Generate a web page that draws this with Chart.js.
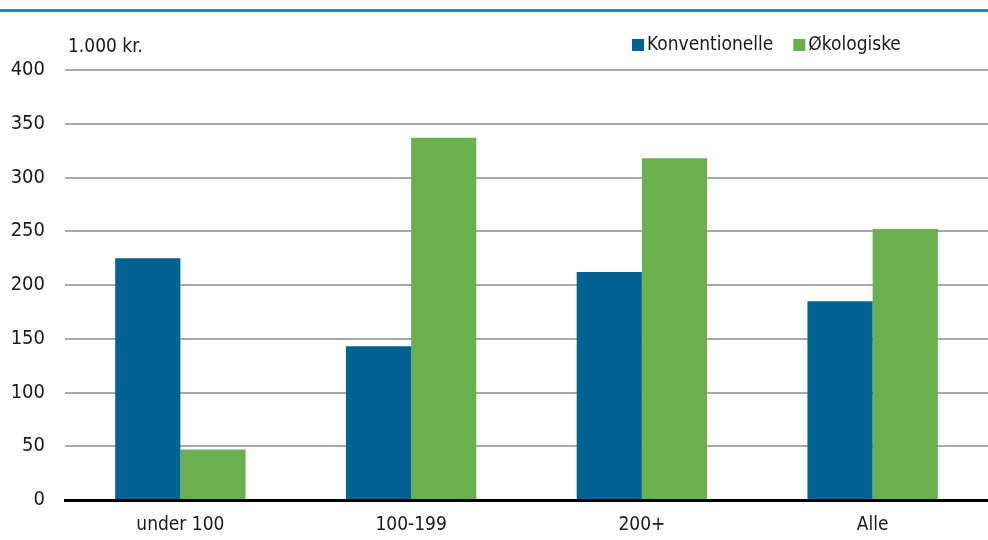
<!DOCTYPE html>
<html>
<head>
<meta charset="utf-8">
<title>Konventionelle og økologiske</title>
<script src="https://cdn.jsdelivr.net/npm/chart.js@4/dist/chart.umd.min.js"></script>
<style>
  html, body { margin: 0; padding: 0; background: #fff; }
  #wrap { width: 988px; height: 540px; position: relative; }
</style>
</head>
<body>
<div id="wrap"><canvas id="chart"></canvas></div>
<script>
// data
const categories = ['under 100', '100-199', '200+', 'Alle'];
const konventionelle = [225, 143, 212, 185];
const okologiske = [47, 337, 318, 252];
const yTicks = [0, 50, 100, 150, 200, 250, 300, 350, 400];
const unitLabel = '1.000 kr.';

const FONT = '"Liberation Sans Narrow", "DejaVu Sans Condensed", "Roboto Condensed", sans-serif';

// top rule, unit label and the legend drawn by hand
const extras = {
  id: 'extras',
  afterDraw(chart) {
    const ctx = chart.ctx;
    const area = chart.chartArea;
    ctx.save();
    ctx.fillStyle = '#0a8fd6';
    ctx.fillRect(0, 9, chart.width, 3);

    ctx.font = '19px ' + FONT;
    ctx.fillStyle = '#1a1a1a';
    ctx.textBaseline = 'middle';
    ctx.textAlign = 'left';
    ctx.fillText(unitLabel, area.left + 3, 47);

    // legend
    let x = 632;
    chart.data.datasets.forEach(ds => {
      ctx.fillStyle = ds.backgroundColor;
      ctx.fillRect(x, 39, 12, 12);
      ctx.fillStyle = '#1a1a1a';
      ctx.fillText(ds.label, x + 15, 45);
      x += 15 + ctx.measureText(ds.label).width + 20;
    });
    ctx.restore();
  }
};

const ctx = document.getElementById('chart').getContext('2d');
const chart = new Chart(ctx, {
  type: 'bar',
  data: {
    labels: categories,
    datasets: [
      { label: 'Konventionelle', data: konventionelle, backgroundColor: '#016394' },
      { label: 'Økologiske', data: okologiske, backgroundColor: '#6ab04e' }
    ]
  },
  options: {
    responsive: true,
    maintainAspectRatio: false,
    animation: false,
    layout: { padding: { top: 70, right: 0, left: 0, bottom: 0 } },
    datasets: {
      bar: { barPercentage: 1, categoryPercentage: 0.565 }
    },
    plugins: {
      legend: { display: false },
      tooltip: { enabled: false }
    },
    scales: {
      x: {
        grid: { display: false, drawTicks: false },
        border: { display: true, color: '#000', width: 3 },
        ticks: { color: '#1a1a1a', font: { family: FONT, size: 19 }, padding: 14 },
        afterFit(scale) { scale.height = 40; }
      },
      y: {
        min: 0,
        max: 400,
        afterBuildTicks(scale) { scale.ticks = yTicks.map(v => ({ value: v })); },
        grid: {
          color: c => c.tick && c.tick.value === 0 ? 'rgba(0,0,0,0)' : '#a8a8a8',
          lineWidth: 2,
          drawTicks: false
        },
        border: { display: false },
        ticks: { color: '#1a1a1a', font: { family: FONT, size: 20 }, padding: 20 },
        afterFit(scale) { scale.width = 65; }
      }
    }
  },
  plugins: [extras]
});
</script>
</body>
</html>
